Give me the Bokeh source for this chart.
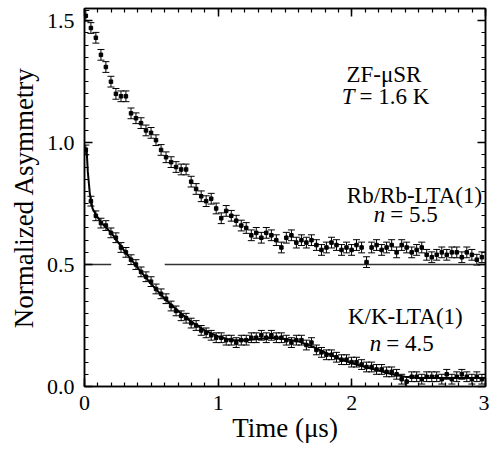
from bokeh.plotting import figure
from bokeh.models import (Range1d, LinearAxis, FixedTicker, Whisker, TeeHead,
                          ColumnDataSource, Label, NumeralTickFormatter,
                          CustomJSTickFormatter)
from bokeh.embed import file_html
from bokeh.resources import INLINE

# ---------------- data ----------------
time_us = [0.010, 0.048, 0.085, 0.123, 0.160, 0.198, 0.235, 0.273, 0.310, 0.348,
           0.385, 0.423, 0.460, 0.498, 0.535, 0.573, 0.610, 0.648, 0.685, 0.723,
           0.760, 0.798, 0.835, 0.873, 0.910, 0.948, 0.985, 1.023, 1.060, 1.098,
           1.135, 1.173, 1.210, 1.248, 1.285, 1.323, 1.360, 1.398, 1.435, 1.473,
           1.510, 1.548, 1.585, 1.623, 1.660, 1.698, 1.735, 1.773, 1.810, 1.848,
           1.885, 1.923, 1.960, 1.998, 2.035, 2.073, 2.110, 2.148, 2.185, 2.223,
           2.260, 2.298, 2.335, 2.373, 2.410, 2.448, 2.485, 2.523, 2.560, 2.598,
           2.635, 2.673, 2.710, 2.748, 2.785, 2.823, 2.860, 2.898, 2.935, 2.973]

rb_asym = [1.52, 1.47, 1.43, 1.36, 1.31, 1.25, 1.20, 1.19, 1.19, 1.12,
           1.10, 1.08, 1.05, 1.04, 1.01, 0.97, 0.94, 0.92, 0.90, 0.89,
           0.89, 0.84, 0.81, 0.78, 0.76, 0.77, 0.73, 0.69, 0.72, 0.70,
           0.68, 0.66, 0.65, 0.62, 0.63, 0.61, 0.63, 0.62, 0.60, 0.57,
           0.61, 0.62, 0.59, 0.60, 0.59, 0.60, 0.58, 0.56, 0.57, 0.59,
           0.58, 0.56, 0.57, 0.56, 0.58, 0.57, 0.51, 0.57, 0.58, 0.56,
           0.57, 0.58, 0.55, 0.58, 0.57, 0.55, 0.56, 0.57, 0.54, 0.53,
           0.54, 0.55, 0.54, 0.55, 0.55, 0.53, 0.55, 0.54, 0.52, 0.53]

k_asym = [0.97, 0.76, 0.70, 0.67, 0.66, 0.63, 0.61, 0.57, 0.55, 0.52,
          0.50, 0.47, 0.45, 0.43, 0.40, 0.38, 0.36, 0.33, 0.31, 0.29,
          0.28, 0.26, 0.25, 0.23, 0.22, 0.21, 0.20, 0.20, 0.19, 0.19,
          0.18, 0.19, 0.19, 0.20, 0.20, 0.21, 0.20, 0.21, 0.20, 0.20,
          0.19, 0.18, 0.19, 0.19, 0.17, 0.18, 0.15, 0.14, 0.13, 0.13,
          0.12, 0.11, 0.11, 0.10, 0.10, 0.09, 0.08, 0.08, 0.07, 0.07,
          0.06, 0.06, 0.05, 0.03, 0.02, 0.04, 0.04, 0.03, 0.04, 0.04,
          0.04, 0.03, 0.05, 0.03, 0.04, 0.05, 0.04, 0.03, 0.04, 0.03]

rb_err = 0.022
k_err = 0.02

fit_t = [0.015, 0.025, 0.04, 0.06, 0.09, 0.13, 0.2, 0.3, 0.4, 0.5, 0.6, 0.7,
         0.8, 0.9, 1.0, 1.1, 1.2, 1.3, 1.4, 1.5, 1.6, 1.7, 1.8, 1.9, 2.0,
         2.1, 2.2, 2.3, 2.4, 2.5, 2.6, 2.8, 3.0]
fit_k = [0.98, 0.88, 0.79, 0.73, 0.70, 0.67, 0.63, 0.555, 0.485, 0.42, 0.36, 0.31,
         0.265, 0.23, 0.205, 0.19, 0.19, 0.195, 0.20, 0.195, 0.185, 0.165, 0.14, 0.115, 0.095,
         0.08, 0.065, 0.05, 0.04, 0.035, 0.035, 0.035, 0.035]

baseline_x0 = [0.0, 0.6]
baseline_x1 = [0.2, 3.0]
baseline_y = [0.5, 0.5]

x_major = [0, 1, 2, 3]
y_major = [0.0, 0.5, 1.0, 1.5]

FONT = "'Liberation Serif'"
TICK_FS = "22px"
AXLAB_FS = "27px"
ANN_FS = "23px"

# ---------------- figure ----------------
p = figure(frame_width=401, frame_height=378, output_backend="svg", toolbar_location=None,
           x_range=Range1d(0, 3), y_range=Range1d(0, 1.55),
           min_border_left=84, min_border_right=4, min_border_top=8, min_border_bottom=64)
p.grid.visible = False
p.outline_line_color = "black"
p.outline_line_width = 1.5
p.background_fill_color = "white"

x_minor = [i * 0.1 for i in range(31)]
y_minor = [i * 0.05 for i in range(32)]

def style_axis(ax, ticks, minor, show_labels):
    ax.ticker = FixedTicker(ticks=ticks, minor_ticks=minor)
    ax.axis_line_color = "black"
    ax.axis_line_width = 1.5
    ax.major_tick_line_color = "black"
    ax.major_tick_line_width = 1.5
    ax.minor_tick_line_color = "black"
    ax.minor_tick_line_width = 1.2
    ax.major_tick_in = 8
    ax.major_tick_out = 0
    ax.minor_tick_in = 4
    ax.minor_tick_out = 0
    ax.major_label_text_font = FONT
    ax.major_label_text_color = "black"
    ax.major_label_text_font_size = TICK_FS
    ax.axis_label_text_font = FONT
    ax.axis_label_text_font_style = "normal"
    ax.axis_label_text_font_size = AXLAB_FS
    ax.axis_label_text_color = "black"
    if not show_labels:
        ax.formatter = CustomJSTickFormatter(code="return ''")
        ax.major_label_standoff = 0

style_axis(p.xaxis[0], x_major, x_minor, True)
style_axis(p.yaxis[0], y_major, y_minor, True)
p.xaxis[0].formatter = NumeralTickFormatter(format="0")
p.yaxis[0].formatter = NumeralTickFormatter(format="0.0")
p.xaxis[0].axis_label = "Time (μs)"
p.yaxis[0].axis_label = "Normalized Asymmetry"
p.xaxis[0].major_label_standoff = 9
p.yaxis[0].major_label_standoff = 10
p.xaxis[0].axis_label_standoff = 0
p.yaxis[0].axis_label_standoff = 5

top_ax = LinearAxis()
right_ax = LinearAxis()
style_axis(top_ax, x_major, x_minor, False)
style_axis(right_ax, y_major, y_minor, False)
p.add_layout(top_ax, "above")
p.add_layout(right_ax, "right")

# baseline
p.segment(x0=baseline_x0, y0=baseline_y, x1=baseline_x1, y1=baseline_y,
          line_color="#333333", line_width=1.5)

# fit line for K
p.line(fit_t, fit_k, line_color="black", line_width=2)

def add_series(vals, err):
    src = ColumnDataSource(data=dict(t=time_us, v=vals,
                                     lo=[v - err for v in vals],
                                     hi=[v + err for v in vals]))
    w = Whisker(source=src, base="t", lower="lo", upper="hi",
                line_color="black", line_width=1,
                upper_head=TeeHead(size=7, line_color="black", line_width=1),
                lower_head=TeeHead(size=7, line_color="black", line_width=1))
    p.add_layout(w)
    p.scatter("t", "v", source=src, marker="square", size=3.5,
              line_color="black", fill_color="black")

add_series(rb_asym, rb_err)
add_series(k_asym, k_err)

# annotations
def lab(x, y, txt, align="center", italic=False, dx=0):
    p.add_layout(Label(x=x, y=y, text=txt, text_font=FONT, text_font_size=ANN_FS,
                       text_align=align, text_baseline="alphabetic", text_color="black",
                       x_offset=dx,
                       text_font_style="italic" if italic else "normal"))

lab(2.24, 1.28, "ZF-μSR")
lab(2.02, 1.19, "T", align="right", italic=True)
lab(2.02, 1.19, "= 1.6 K", align="left", dx=5)
lab(2.975, 0.785, "Rb/Rb-LTA(1)", align="right")
lab(2.25, 0.705, "n", align="right", italic=True)
lab(2.25, 0.705, "= 5.5", align="left", dx=5)
lab(2.40, 0.285, "K/K-LTA(1)")
lab(2.22, 0.175, "n", align="right", italic=True)
lab(2.22, 0.175, "= 4.5", align="left", dx=5)

open("out.html", "w").write(file_html(p, INLINE))
